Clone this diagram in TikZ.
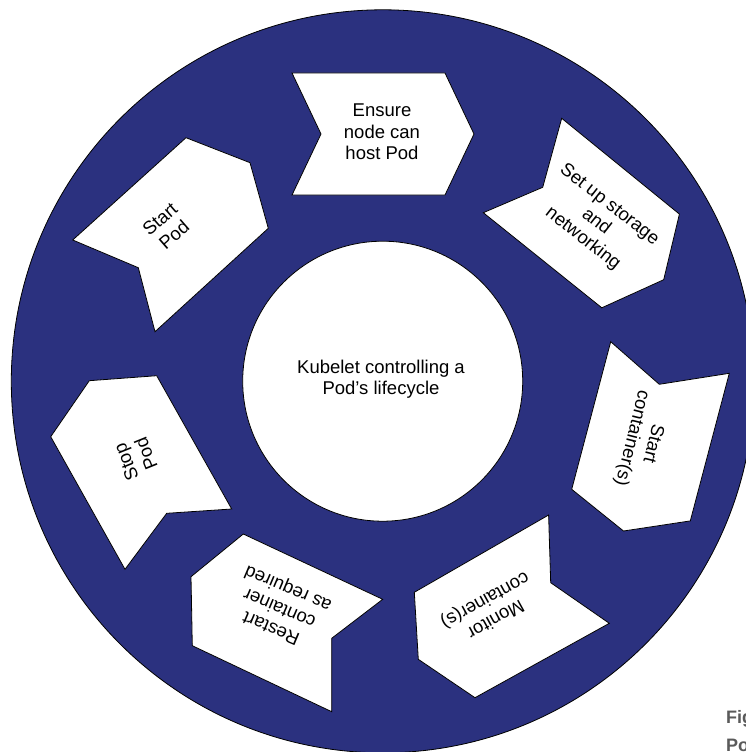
\documentclass[tikz,border=0pt]{standalone}
\usepackage{fontspec}
\setmainfont{Liberation Sans}
\definecolor{ringblue}{RGB}{43,49,127}
\definecolor{capgray}{RGB}{90,90,90}
\begin{document}
\begin{tikzpicture}[x=1pt,y=-1pt,
  chev/.style={draw=black, fill=white, line width=0.8pt, line join=miter},
  lbl/.style={align=center, font=\fontsize{18.5}{21.5}\selectfont, inner sep=0pt},
  capt/.style={anchor=base west, font=\fontsize{18}{20}\selectfont\bfseries, text=capgray, inner sep=0pt}]
\useasboundingbox (0,0) rectangle (746,752);
\fill[white] (0,0) rectangle (746,752);
% outer ring
\draw[fill=ringblue, line width=0.8pt] (382.8,381.3) circle[radius=371.5pt];
% hub
\node[circle, draw, fill=white, minimum size=280pt, line width=0.8pt, inner sep=0pt] (hub) at (382.7,381.2) {};
\node[lbl] (hubtext) at (381,379) {Kubelet controlling a\\ Pod's lifecycle};
% chevrons
\draw[chev] (292,73) -- (445,73) -- (474,134) -- (445,195) -- (292,195) -- (321,134) -- cycle;
\node[lbl] (ensure) at (382,132) {Ensure\\node can\\host Pod};

\draw[chev] (561.7,118.3) -- (679.4,214.1) -- (663.7,279.7) -- (601.8,307.8) -- (483.3,212.7) -- (542.7,187.3) -- cycle;
\node[lbl, rotate=-38] (setup) at (596,222) {Set up storage\\and\\networking};

\draw[chev] (610.7,341.7) -- (659.3,384.3) -- (729.3,373.3) -- (690.3,520.9) -- (623.5,531) -- (571.7,489.3) -- cycle;
\node[lbl, rotate=-104] (startc) at (642,441) {Start\\container(s)};

\draw[chev] (548.6,515) -- (550.7,582.7) -- (609.3,623.3) -- (475,697.7) -- (418.3,659.3) -- (414.3,592.3) -- cycle;
\node[lbl, rotate=209] (monitor) at (490,609) {Monitor\\container(s)};

\draw[chev] (243.3,534) -- (382.7,599.3) -- (331.7,638.3) -- (331.7,711.7) -- (192.3,645.7) -- (191,576.7) -- cycle;
\node[lbl, rotate=157] (restart) at (280,607) {Restart\\container\\as required};

\draw[chev] (89.3,380.7) -- (156.7,375.7) -- (231.7,509) -- (166.7,513.3) -- (125,569.3) -- (50.7,436.7) -- cycle;
\node[lbl, rotate=112] (stop) at (136,458) {Stop\\Pod};

\draw[chev] (186,137.7) -- (250,162.7) -- (268.3,228.3) -- (155,331.7) -- (138.3,267.7) -- (72.7,240) -- cycle;
\node[lbl, rotate=41] (startpod) at (167,227) {Start\\Pod};
% caption fragments
\node[capt] (figcap) at (726,723) {Fig};
\node[capt] (pocap) at (726,751) {Po};
\end{tikzpicture}
\end{document}
